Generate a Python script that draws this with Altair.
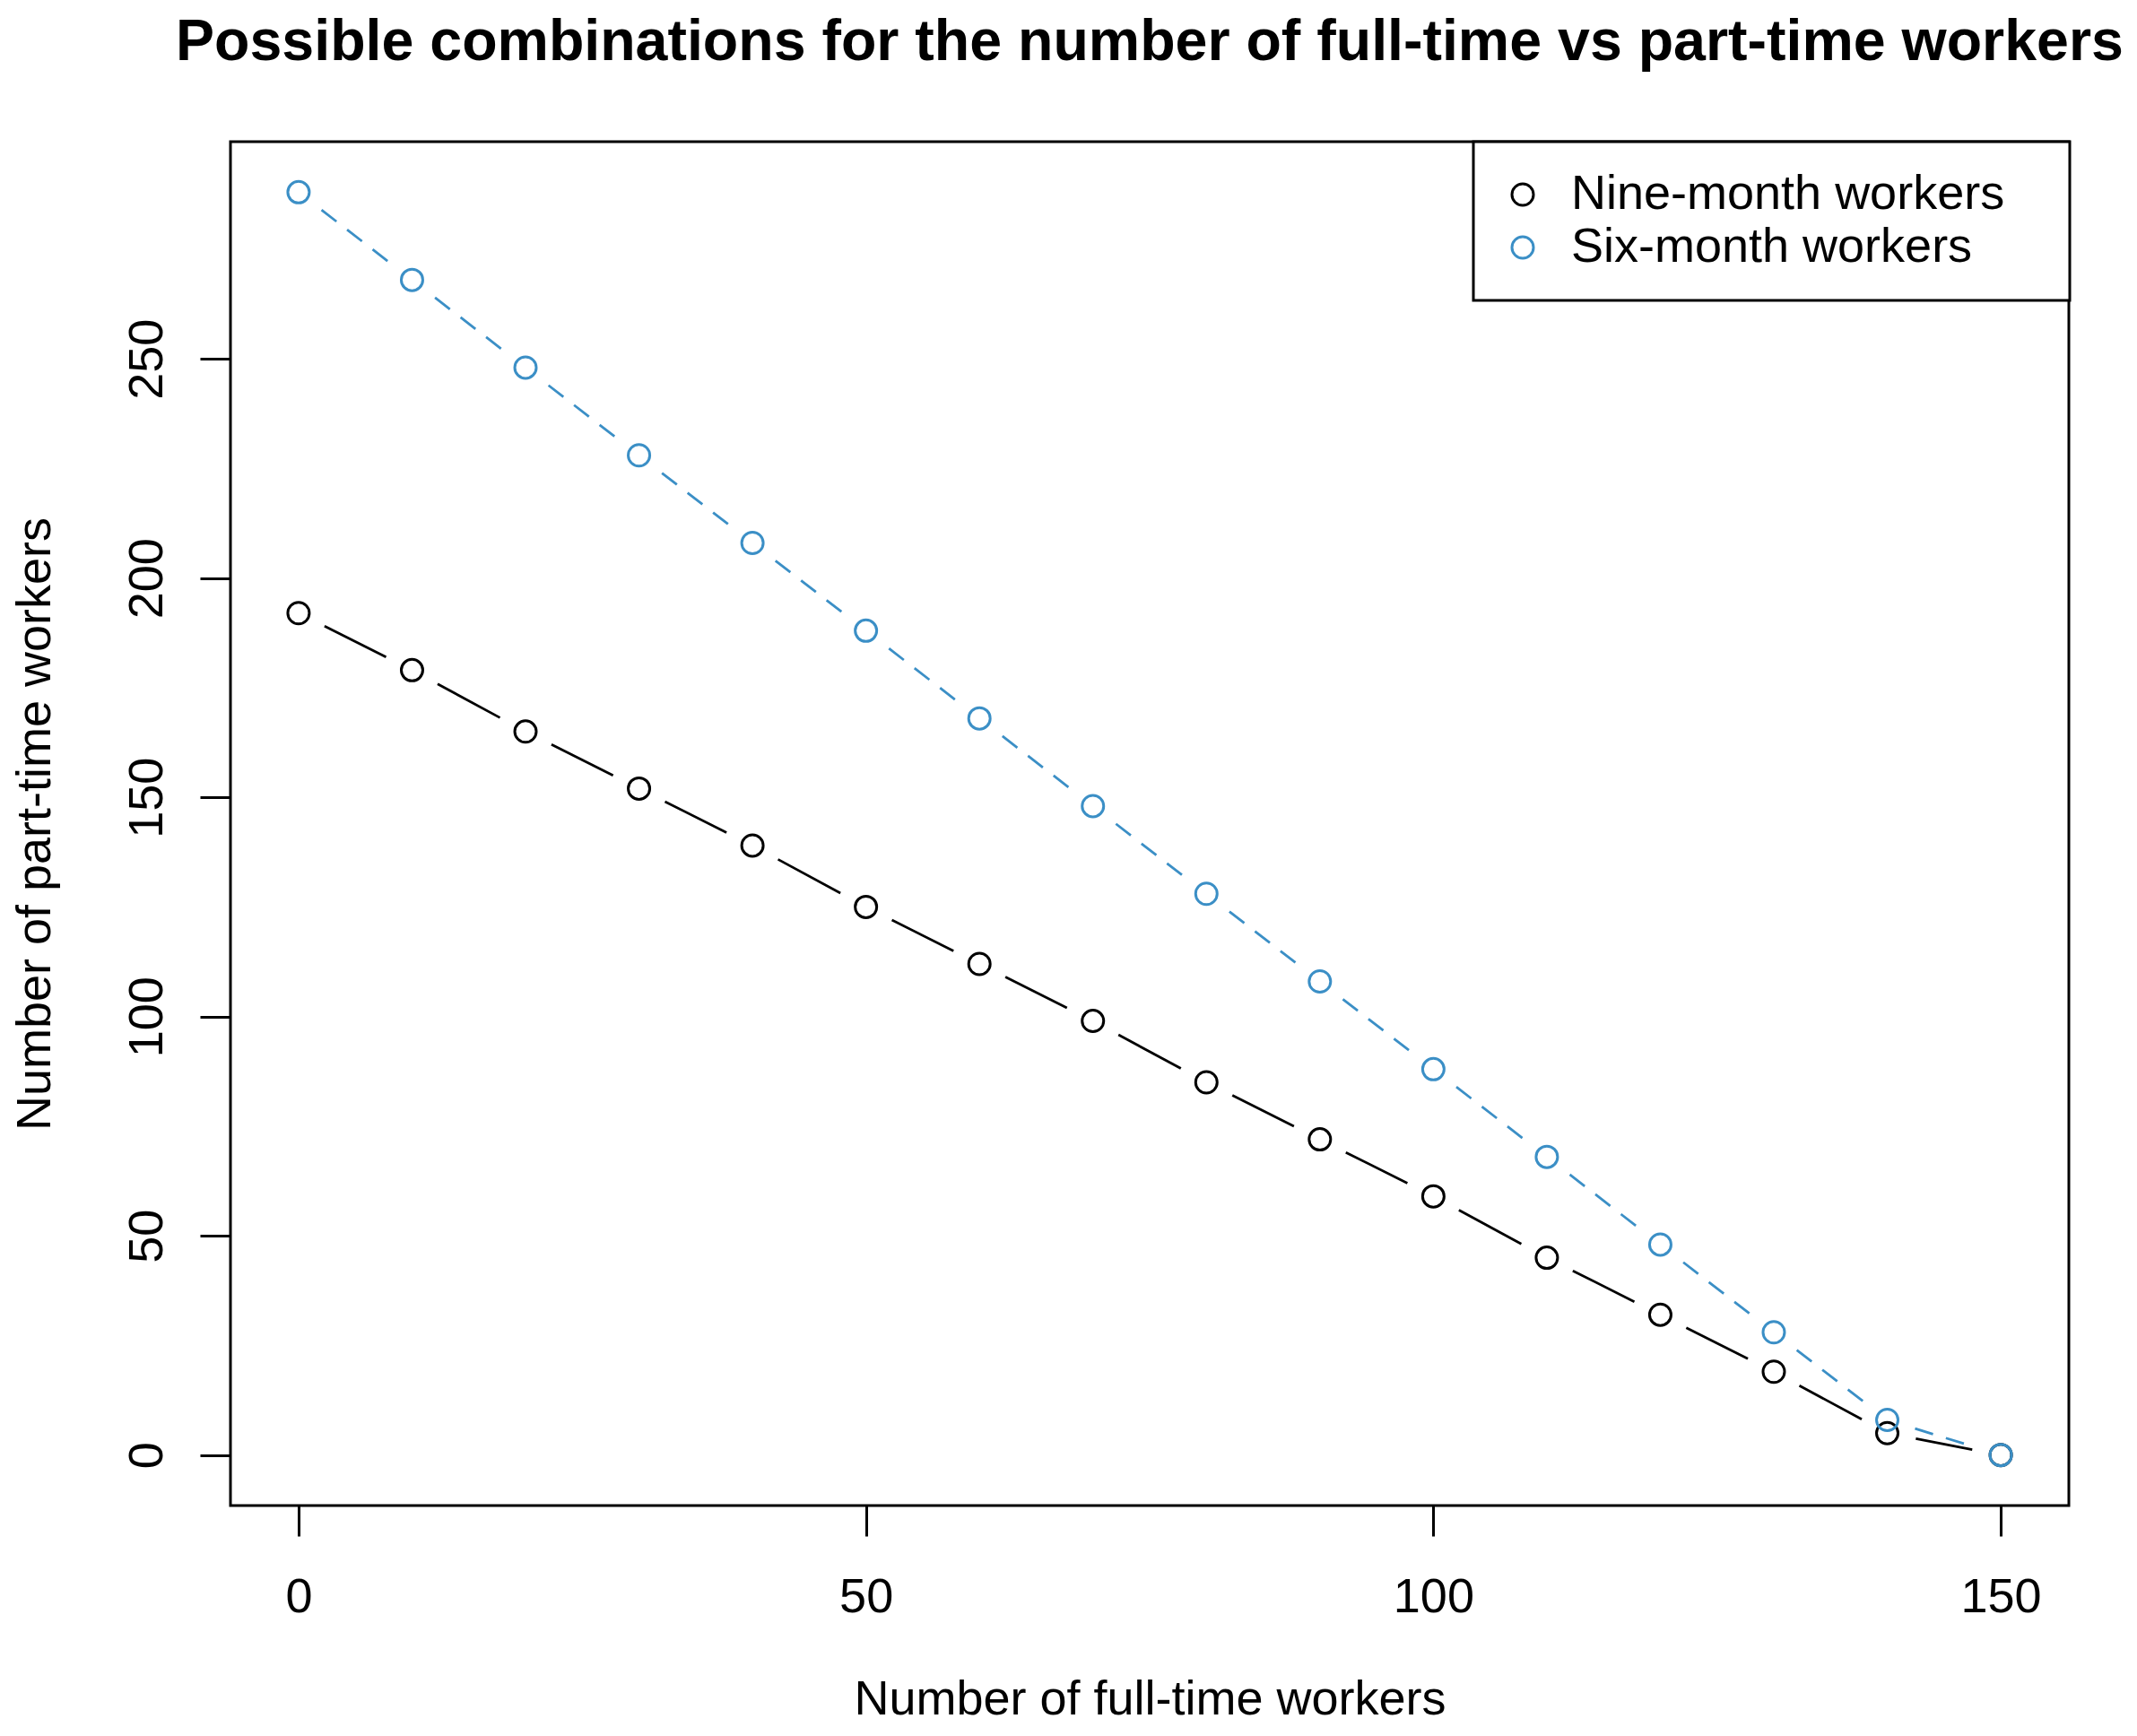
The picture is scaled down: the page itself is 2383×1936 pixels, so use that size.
import math
import altair as alt
import pandas as pd

# ---- data ----
full_time = [0, 10, 20, 30, 40, 50, 60, 70, 80, 90, 100, 110, 120, 130, 140, 150]
nine_month = [192, 179, 165, 152, 139, 125, 112, 99, 85, 72, 59, 45, 32, 19, 5, 0]
six_month = [288, 268, 248, 228, 208, 188, 168, 148, 128, 108, 88, 68, 48, 28, 8, 0]
series_names = ["Nine-month workers", "Six-month workers"]
series_colors = ["#000000", "#3B8FC6"]
x_ticks = [0, 50, 100, 150]
y_ticks = [0, 50, 100, 150, 200, 250]
main_title = ["Possible combinations for the number of full-time vs part-time workers"]

# ---- layout ----
W, H = 2050, 1521
x_dom = [-6, 156]
y_dom = [-11.52, 299.52]
GAP = 32.4  # R type="b" gap around points, in px
FONT = "Liberation Sans"


def gapped_segments(xs, ys):
    sx = W / (x_dom[1] - x_dom[0])
    sy = H / (y_dom[1] - y_dom[0])
    rows = []
    for i in range(len(xs) - 1):
        dx, dy = xs[i + 1] - xs[i], ys[i + 1] - ys[i]
        L = math.hypot(dx * sx, dy * sy)
        if L <= 2 * GAP:
            continue
        f = GAP / L
        rows.append(dict(x=xs[i] + f * dx, y=ys[i] + f * dy,
                         x2=xs[i + 1] - f * dx, y2=ys[i + 1] - f * dy))
    return pd.DataFrame(rows)


seg_nine = gapped_segments(full_time, nine_month)
seg_six = gapped_segments(full_time, six_month)

points = pd.concat([
    pd.DataFrame({"ft": full_time, "pt": nine_month, "series": series_names[0]}),
    pd.DataFrame({"ft": full_time, "pt": six_month, "series": series_names[1]}),
])

xscale = alt.Scale(domain=x_dom, nice=False, zero=False)
yscale = alt.Scale(domain=y_dom, nice=False, zero=False)

x_axis = alt.Axis(
    values=x_ticks, title="Number of full-time workers", grid=False, domain=False,
    tickSize=34, tickWidth=3, tickColor="black",
    labelFont=FONT, labelFontSize=54, labelColor="black", labelPadding=84,
    labelBaseline="alphabetic", labelAngle=0, labelFlush=False, labelOverlap=False,
    titleFont=FONT, titleFontSize=54, titleFontWeight="normal", titleColor="black",
    titleBaseline="alphabetic", titleAlign="center", titleX=W / 2, titleY=232,
)
y_axis = alt.Axis(
    values=y_ticks, title="Number of part-time workers", grid=False, domain=False,
    tickSize=34, tickWidth=3, tickColor="black",
    labelFont=FONT, labelFontSize=54, labelColor="black", labelPadding=43,
    labelAngle=270, labelAlign="center", labelBaseline="alphabetic",
    labelFlush=False, labelOverlap=False,
    titleFont=FONT, titleFontSize=54, titleFontWeight="normal", titleColor="black",
    titleAngle=270, titleBaseline="alphabetic", titleAlign="center",
    titleX=-202, titleY=H / 2,
)

seg_base = dict(
    x=alt.X("x:Q", scale=xscale, axis=x_axis),
    y=alt.Y("y:Q", scale=yscale, axis=y_axis),
    x2="x2:Q",
    y2="y2:Q",
)

rule_nine = alt.Chart(seg_nine).mark_rule(
    color=series_colors[0], strokeWidth=2.8
).encode(**seg_base)

rule_six = alt.Chart(seg_six).mark_rule(
    color=series_colors[1], strokeWidth=2.8, strokeDash=[21, 15]
).encode(**seg_base)

pts = alt.Chart(points).mark_point(
    shape="circle", filled=False, size=576, strokeWidth=3, opacity=1
).encode(
    x=alt.X("ft:Q", scale=xscale, axis=x_axis),
    y=alt.Y("pt:Q", scale=yscale, axis=y_axis),
    color=alt.Color(
        "series:N",
        scale=alt.Scale(domain=series_names, range=series_colors),
        sort=series_names,
        legend=alt.Legend(
            orient="none", legendX=1386, legendY=0,
            title=" ", titleOrient="right", titlePadding=41, titleFontSize=1,
            labelFont=FONT, labelFontSize=54, labelColor="black",
            labelOffset=27, symbolOffset=-4, symbolSize=576,
            symbolStrokeWidth=3, symbolType="circle", rowPadding=5, padding=32,
            labelLimit=1000,
        ),
    ),
)

title_layer = alt.Chart(pd.DataFrame({"t": main_title})).mark_text(
    font=FONT, fontSize=64.5, fontWeight="bold", color="black",
    align="center", baseline="alphabetic",
).encode(
    text="t:N",
    x=alt.value(W / 2),
    y=alt.value(-91),
)

chart = alt.layer(
    rule_nine, pts.transform_filter(alt.datum.series == series_names[0]),
    rule_six, pts.transform_filter(alt.datum.series == series_names[1]),
    title_layer,
).properties(
    width=W,
    height=H,
    background="white",
    padding={"left": 249, "top": 150, "right": 68, "bottom": 243},
    autosize=alt.AutoSizeParams(type="none"),
).configure_view(
    stroke="black", strokeWidth=3
).configure_legend(
    strokeColor="black", strokeWidth=3, fillColor="white"
)

chart.save("out.html", embed_options={"renderer": "svg", "actions": False})
